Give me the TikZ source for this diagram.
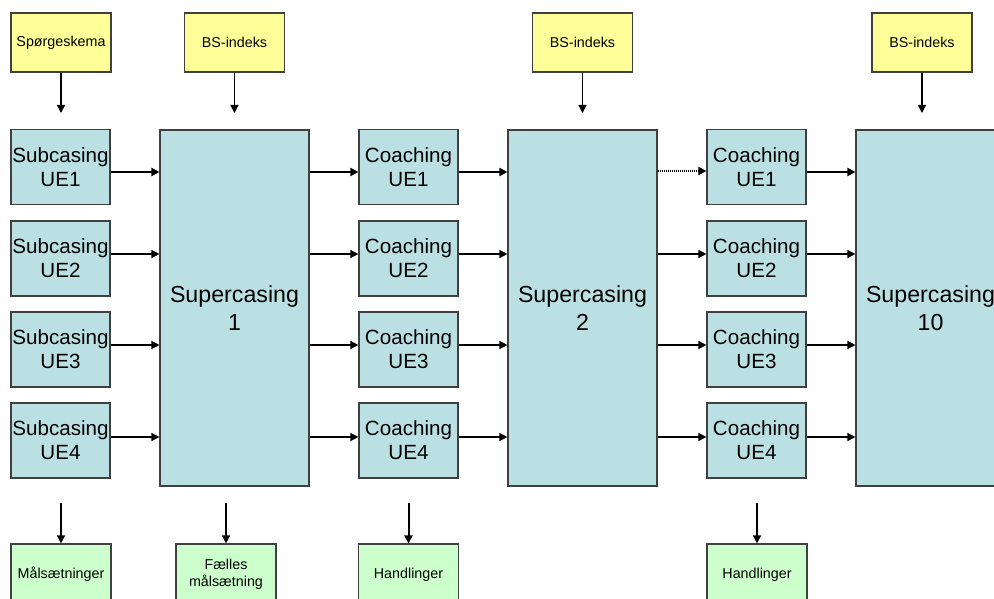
\documentclass[tikz,border=0pt]{standalone}
\usepackage{fontspec}
\setmainfont{Liberation Sans}
\usetikzlibrary{arrows.meta}
\definecolor{boxblue}{HTML}{BBE0E3}
\definecolor{boxyellow}{HTML}{FFFF99}
\definecolor{boxgreen}{HTML}{CCFFCC}
\definecolor{edgegray}{HTML}{404040}
\tikzset{
  basebox/.style={draw=edgegray, line width=1.1pt, inner sep=0pt, align=center},
  ybox/.style={basebox, fill=boxyellow, minimum width=100pt, minimum height=59pt, font=\fontsize{14.3}{17}\selectfont},
  gbox/.style={basebox, fill=boxgreen, minimum width=100pt, minimum height=61pt, font=\fontsize{14.3}{17}\selectfont},
  ubox/.style={basebox, fill=boxblue, minimum width=99pt, minimum height=75pt, font=\fontsize{20.6}{24}\selectfont},
  sbox/.style={basebox, fill=boxblue, minimum width=149pt, minimum height=356pt, font=\fontsize{23.2}{28}\selectfont},
  arr/.style={-{Triangle[length=8pt,width=8pt]}, line width=1.3pt, black},
  arrb/.style={arr, line width=2pt},
}
\begin{document}
\begin{tikzpicture}[x=1pt,y=-1pt]
\useasboundingbox (0,0) rectangle (994,599);
\clip (0,0) rectangle (994,599);
% top yellow
\node[ybox] (q)  at (61,42.5)  {Spørgeskema};
\node[ybox] (b1) at (234.5,42.5) {BS-indeks};
\node[ybox] (b2) at (582.5,42.5) {BS-indeks};
\node[ybox] (b3) at (922,42.5) {BS-indeks};
% column 1
\node[ubox] (s1) at (60.5,167)   {Subcasing\\UE1};
\node[ubox] (s2) at (60.5,258.5) {Subcasing\\UE2};
\node[ubox] (s3) at (60.5,349.5) {Subcasing\\UE3};
\node[ubox] (s4) at (60.5,440.5) {Subcasing\\UE4};
% supercasings
\node[sbox] (p1) at (234.5,308) {Supercasing\\1};
\node[sbox] (p2) at (582.5,308) {Supercasing\\2};
\node[sbox] (p3) at (930.5,308) {Supercasing\\10};
% coaching column 2
\node[ubox] (c1) at (408.5,167)   {Coaching\\UE1};
\node[ubox] (c2) at (408.5,258.5) {Coaching\\UE2};
\node[ubox] (c3) at (408.5,349.5) {Coaching\\UE3};
\node[ubox] (c4) at (408.5,440.5) {Coaching\\UE4};
% coaching column 3
\node[ubox] (d1) at (756.5,167)   {Coaching\\UE1};
\node[ubox] (d2) at (756.5,258.5) {Coaching\\UE2};
\node[ubox] (d3) at (756.5,349.5) {Coaching\\UE3};
\node[ubox] (d4) at (756.5,440.5) {Coaching\\UE4};
% bottom green
\node[gbox] (g1) at (61,574.5)  {Målsætninger};
\node[gbox] (g2) at (226,574.5) {Fælles\\målsætning};
\node[gbox] (g3) at (408.5,574.5) {Handlinger};
\node[gbox] (g4) at (757,574.5) {Handlinger};
% top arrows
\coordinate (qe) at (61,113);
\coordinate (b1e) at (234.5,113);
\coordinate (b2e) at (582.5,113);
\coordinate (b3e) at (922,113);
\draw[arr] (q.south) -- (qe);
\draw[arr] (b1.south) -- (b1e);
\draw[arr] (b2.south) -- (b2e);
\draw[arr] (b3.south) -- (b3e);
% row arrows
\draw[arrb] ([yshift=-5pt]s1.east) -- ([yshift=-5pt]s1.east -| p1.west);
\draw[arr] ([yshift=4.5pt]s2.east) -- ([yshift=4.5pt]s2.east -| p1.west);
\draw[arr] ([yshift=4.5pt]s3.east) -- ([yshift=4.5pt]s3.east -| p1.west);
\draw[arr] ([yshift=3.5pt]s4.east) -- ([yshift=3.5pt]s4.east -| p1.west);
\draw[arrb] ([yshift=-5pt]c1.west -| p1.east) -- ([yshift=-5pt]c1.west);
\draw[arr] ([yshift=4.5pt]c2.west -| p1.east) -- ([yshift=4.5pt]c2.west);
\draw[arr] ([yshift=4.5pt]c3.west -| p1.east) -- ([yshift=4.5pt]c3.west);
\draw[arr] ([yshift=3.5pt]c4.west -| p1.east) -- ([yshift=3.5pt]c4.west);
\draw[arrb] ([yshift=-5pt]c1.east) -- ([yshift=-5pt]c1.east -| p2.west);
\draw[arr] ([yshift=4.5pt]c2.east) -- ([yshift=4.5pt]c2.east -| p2.west);
\draw[arr] ([yshift=4.5pt]c3.east) -- ([yshift=4.5pt]c3.east -| p2.west);
\draw[arr] ([yshift=3.5pt]c4.east) -- ([yshift=3.5pt]c4.east -| p2.west);
\draw[arrb, dash pattern=on 1.2pt off 0.8pt] ([yshift=-4pt]d1.west -| p2.east) -- ([yshift=-4pt]d1.west);
\draw[arr] ([yshift=4.5pt]d2.west -| p2.east) -- ([yshift=4.5pt]d2.west);
\draw[arr] ([yshift=4.5pt]d3.west -| p2.east) -- ([yshift=4.5pt]d3.west);
\draw[arr] ([yshift=3.5pt]d4.west -| p2.east) -- ([yshift=3.5pt]d4.west);
\draw[arrb] ([yshift=-5pt]d1.east) -- ([yshift=-5pt]d1.east -| p3.west);
\draw[arr] ([yshift=4.5pt]d2.east) -- ([yshift=4.5pt]d2.east -| p3.west);
\draw[arr] ([yshift=4.5pt]d3.east) -- ([yshift=4.5pt]d3.east -| p3.west);
\draw[arr] ([yshift=3.5pt]d4.east) -- ([yshift=3.5pt]d4.east -| p3.west);
% bottom arrows
\coordinate (g1s) at (61,503);
\coordinate (g2s) at (226,503);
\coordinate (g3s) at (408.5,503);
\coordinate (g4s) at (757,503);
\draw[arr] (g1s) -- (g1.north);
\draw[arr] (g2s) -- (g2.north);
\draw[arrb] (g3s) -- (g3.north);
\draw[arr] (g4s) -- (g4.north);
\end{tikzpicture}
\end{document}
